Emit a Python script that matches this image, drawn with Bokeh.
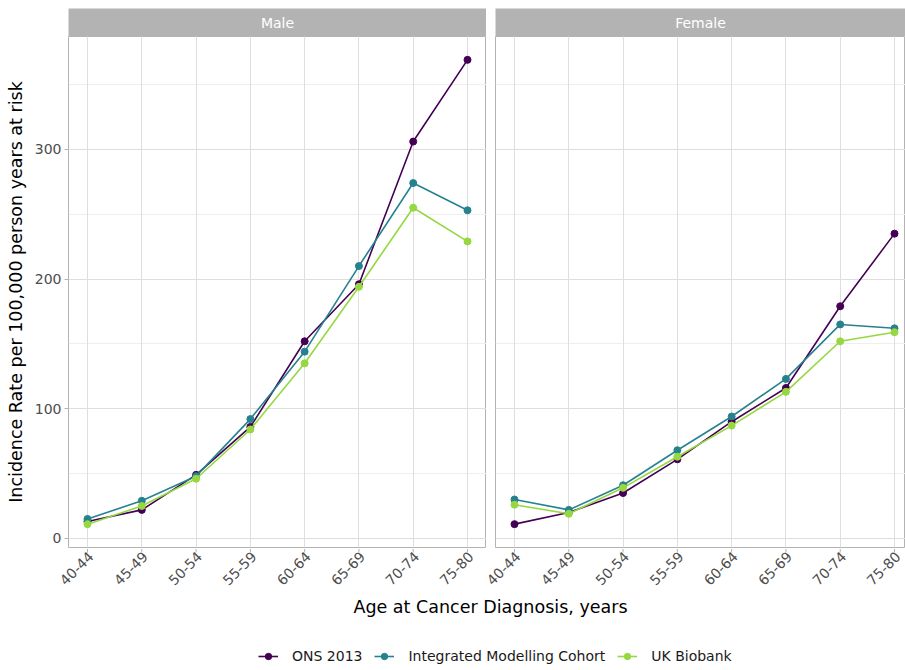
import math
from bokeh.plotting import figure
from bokeh.models import Range1d, FixedTicker, Label, Legend, LegendItem
from bokeh.core.properties import value
from bokeh.layouts import column, row
from bokeh.embed import file_html
from bokeh.resources import INLINE

# ---------------- data ----------------
age_groups = ["40-44", "45-49", "50-54", "55-59", "60-64", "65-69", "70-74", "75-80"]
series_names = ["ONS 2013", "Integrated Modelling Cohort", "UK Biobank"]
series_colors = ["#440154", "#26828E", "#95D840"]

male_ons = [13, 22, 49, 86, 152, 196, 306, 369]
male_imc = [15, 29, 48, 92, 144, 210, 274, 253]
male_ukb = [11, 25, 46, 84, 135, 194, 255, 229]

female_ons = [11, 20, 35, 61, 90, 116, 179, 235]
female_imc = [30, 22, 41, 68, 94, 123, 165, 162]
female_ukb = [26, 19, 39, 63, 87, 113, 152, 159]

y_ticks = [0, 100, 200, 300]
y_minor = [50, 150, 250, 350]

FONT = "DejaVu Sans"
x_pos = list(range(1, len(age_groups) + 1))

# ---------------- layout constants (pixels) ----------------
W, H = 905, 670
TOP = 8
STRIP_H = 28
FRAME_H = 511
L_BORDER, L_FRAME = 68, 418
GAP, R_FRAME = 9, 410
X0 = 1 - 0.35                      # left limit of each panel (ggplot 5% expansion)
PX_PER_UNIT = L_FRAME / 7.7
L_END = X0 + L_FRAME / PX_PER_UNIT
R_END = X0 + R_FRAME / PX_PER_UNIT
LW = L_BORDER + L_FRAME
RW = GAP + R_FRAME
PANEL_H = FRAME_H + 1
BOT_H = H - (TOP + STRIP_H + PANEL_H)


def strip(text, width, mb_left):
    s = figure(width=width, height=TOP + STRIP_H, x_range=Range1d(0, 1), y_range=Range1d(0, 1),
               x_axis_location=None, y_axis_location=None,
               min_border_left=mb_left, min_border_right=0,
               min_border_top=TOP, min_border_bottom=0,
               background_fill_color="#B3B3B3", border_fill_color="white",
               output_backend="svg", toolbar_location=None)
    s.grid.visible = False
    s.outline_line_color = None
    s.add_layout(Label(x=0.5, y=0.5, text=text, text_align="center",
                       text_baseline="middle", text_color="white",
                       text_font_size="14px", text_font=FONT))
    return s


def panel(data, x_end, show_y, width, mb_left):
    p = figure(width=width, height=PANEL_H,
               x_range=Range1d(X0, x_end), y_range=Range1d(-7, 387),
               x_axis_location=None,
               output_backend="svg", toolbar_location=None,
               min_border_left=mb_left, min_border_right=0,
               min_border_top=0, min_border_bottom=1,
               background_fill_color="white", border_fill_color="white")
    p.outline_line_color = "#B3B3B3"
    p.outline_line_width = 1

    yt = FixedTicker(ticks=y_ticks, minor_ticks=y_minor)
    xt = FixedTicker(ticks=x_pos, minor_ticks=[])
    p.yaxis.ticker = yt
    p.ygrid.ticker = yt
    from bokeh.models import Grid
    xg = Grid(dimension=0, ticker=xt, grid_line_color="#DEDEDE", grid_line_width=1)
    p.add_layout(xg)
    p.ygrid.grid_line_color = "#DEDEDE"
    p.ygrid.grid_line_width = 1
    p.ygrid.minor_grid_line_color = "#EEEEEE"
    p.ygrid.minor_grid_line_width = 1

    ax = p.yaxis
    ax.axis_line_color = None
    ax.major_tick_line_color = "#B3B3B3"
    ax.major_tick_out = 4
    ax.major_tick_in = 0
    ax.minor_tick_line_color = None
    ax.major_label_text_color = "#4D4D4D"
    ax.major_label_text_font_size = "14px"
    ax.major_label_text_font = FONT
    ax.major_label_standoff = 3
    if show_y:
        p.yaxis.axis_label = "Incidence Rate per 100,000 person years at risk"
        p.yaxis.axis_label_text_font_size = "17.5px"
        p.yaxis.axis_label_text_font_style = "normal"
        p.yaxis.axis_label_text_font = FONT
        p.yaxis.axis_label_text_color = "black"
        p.yaxis.axis_label_standoff = 6
    else:
        p.yaxis.visible = False

    for vals, col in zip(data, series_colors):
        p.line(x_pos, vals, line_color=col, line_width=1.6)
        p.scatter(x_pos, vals, fill_color=col, line_color=col, size=7)
    return p


left = column(strip("Male", LW, L_BORDER),
              panel([male_ons, male_imc, male_ukb], L_END, True, LW, L_BORDER))
right = column(strip("Female", RW, GAP),
               panel([female_ons, female_imc, female_ukb], R_END, False, RW, GAP))

# ---------------- bottom: x ticks + tick labels + x title + legend ----------------
bot = figure(width=W, height=BOT_H, x_range=Range1d(-3, -2), y_range=Range1d(-BOT_H, 0),
             x_axis_location=None, y_axis_location=None,
             output_backend="svg", toolbar_location=None,
             min_border=0, background_fill_color="white", border_fill_color="white")
bot.grid.visible = False
bot.outline_line_color = None

# one x scale per facet, aligned with the panel frames above
m_start = X0 - L_BORDER / PX_PER_UNIT
f_start = X0 - (LW + GAP) / PX_PER_UNIT
bot.extra_x_ranges = {
    "male": Range1d(m_start, m_start + W / PX_PER_UNIT),
    "female": Range1d(f_start, f_start + W / PX_PER_UNIT),
}
for rng in ("male", "female"):
    bot.segment(x0=x_pos, y0=[0] * len(x_pos), x1=x_pos, y1=[-4] * len(x_pos),
                line_color="#B3B3B3", line_width=1, x_range_name=rng)
    bot.text(x=x_pos, y=[-2] * len(x_pos), text=age_groups, angle=math.pi / 4,
             text_align="right", text_baseline="top", text_color="#4D4D4D",
             text_font_size="14px", text_font=value(FONT), x_range_name=rng)

bot.add_layout(Label(x=490, y=BOT_H - (606 - (H - BOT_H)), x_units="screen", y_units="screen",
                     text="Age at Cancer Diagnosis, years", text_align="center",
                     text_baseline="middle", text_font_size="17.5px",
                     text_font=FONT, text_color="black"))

items = []
for name, col, vals in zip(series_names, series_colors, [male_ons, male_imc, male_ukb]):
    rl = bot.line(x_pos, vals, line_color=col, line_width=1.6)
    rs = bot.scatter(x_pos, vals, fill_color=col, line_color=col, size=6)
    items.append(LegendItem(label=name, renderers=[rl, rs]))
leg = Legend(items=items, orientation="horizontal", location=(258, 6),
             padding=0, margin=0, spacing=12, label_standoff=14,
             glyph_width=20, glyph_height=16, label_height=16,
             border_line_color=None, background_fill_alpha=0,
             label_text_font_size="14px", label_text_font=FONT,
             label_text_color="#1A1A1A")
bot.add_layout(leg, "center")

layout = column(row(left, right), bot)
open("out.html", "w").write(file_html(layout, INLINE))
